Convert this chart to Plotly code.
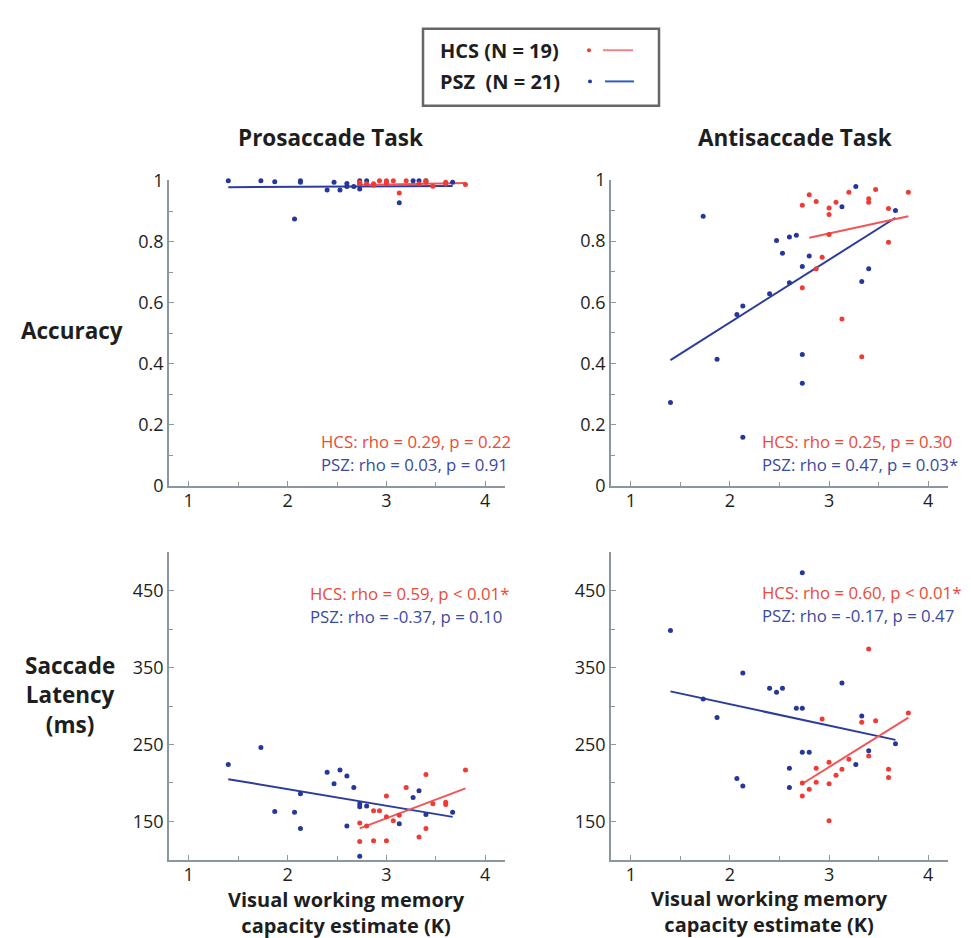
import plotly.graph_objects as go

W, H = 971, 938

# ---------------- data ----------------
# Prosaccade accuracy
pro_acc_psz_x = [1.40, 1.73, 1.87, 2.07, 2.13, 2.13, 2.40, 2.47, 2.53, 2.60, 2.60,
                 2.67, 2.73, 2.73, 2.73, 2.80, 3.13, 3.27, 3.33, 3.40, 3.67]
pro_acc_psz_y = [1.00, 1.00, 0.997, 0.875, 1.00, 0.995, 0.970, 0.995, 0.970, 0.991, 0.981,
                 0.981, 1.00, 0.991, 0.973, 1.00, 0.928, 1.00, 1.00, 1.00, 0.995]
pro_acc_hcs_x = [2.73, 2.73, 2.80, 2.87, 2.87, 2.93, 3.00, 3.00, 3.00, 3.07, 3.13,
                 3.20, 3.33, 3.40, 3.40, 3.47, 3.60, 3.60, 3.80]
pro_acc_hcs_y = [0.995, 0.99, 0.99, 0.985, 0.99, 1.00, 1.00, 0.995, 0.99, 1.00, 0.96,
                 1.00, 0.99, 1.00, 0.995, 0.982, 0.995, 0.99, 0.988]
pro_acc_psz_fit_x = [1.40, 3.67]
pro_acc_psz_fit_y = [0.979, 0.983]
pro_acc_hcs_fit_x = [2.73, 3.80]
pro_acc_hcs_fit_y = [0.986, 0.993]

# Antisaccade accuracy
anti_acc_psz_x = [1.40, 1.73, 1.87, 2.07, 2.13, 2.40, 2.47, 2.53, 2.60, 2.60, 2.67,
                  2.73, 2.73, 2.73, 2.80, 3.13, 3.27, 3.33, 3.40, 3.67, 2.13]
anti_acc_psz_y = [0.272, 0.881, 0.414, 0.560, 0.588, 0.628, 0.802, 0.760, 0.813, 0.664, 0.819,
                  0.717, 0.429, 0.335, 0.751, 0.912, 0.978, 0.668, 0.709, 0.900, 0.159]
anti_acc_hcs_x = [2.73, 2.73, 2.80, 2.87, 2.87, 2.93, 3.00, 3.00, 3.00, 3.07, 3.13,
                  3.20, 3.33, 3.40, 3.40, 3.47, 3.60, 3.60, 3.80]
anti_acc_hcs_y = [0.917, 0.647, 0.951, 0.929, 0.709, 0.747, 0.908, 0.887, 0.821, 0.927, 0.545,
                  0.959, 0.422, 0.938, 0.927, 0.968, 0.906, 0.796, 0.959]
anti_acc_psz_fit_x = [1.40, 3.67]
anti_acc_psz_fit_y = [0.411, 0.876]
anti_acc_hcs_fit_x = [2.80, 3.80]
anti_acc_hcs_fit_y = [0.811, 0.881]

# Prosaccade latency (ms)
pro_lat_psz_x = [1.40, 1.73, 1.87, 2.07, 2.13, 2.13, 2.40, 2.47, 2.53, 2.60, 2.60,
                 2.67, 2.73, 2.73, 2.73, 2.80, 3.13, 3.27, 3.33, 3.40, 3.67]
pro_lat_psz_y = [224, 246, 163, 162, 186, 141, 214, 199, 217, 209, 144,
                 194, 173, 169, 105, 170, 147, 181, 190, 159, 162]
pro_lat_hcs_x = [2.73, 2.73, 2.80, 2.87, 2.87, 2.93, 3.00, 3.00, 3.00, 3.07, 3.13,
                 3.20, 3.33, 3.40, 3.40, 3.47, 3.60, 3.60, 3.80]
pro_lat_hcs_y = [148, 124, 144, 164, 125, 164, 183, 125, 156, 151, 158,
                 194, 130, 211, 141, 173, 175, 172, 217]
pro_lat_psz_fit_x = [1.40, 3.67]
pro_lat_psz_fit_y = [205, 156]
pro_lat_hcs_fit_x = [2.73, 3.80]
pro_lat_hcs_fit_y = [141, 193]

# Antisaccade latency (ms)
anti_lat_psz_x = [2.73, 1.40, 2.13, 3.13, 2.40, 2.47, 2.53, 1.73, 2.67, 2.73, 1.87,
                  3.33, 3.67, 2.73, 2.80, 3.40, 2.60, 3.27, 2.07, 2.13, 2.60]
anti_lat_psz_y = [473, 398, 343, 330, 323, 318, 323, 309, 297, 297, 285,
                  287, 251, 240, 240, 242, 219, 224, 206, 196, 194]
anti_lat_hcs_x = [3.40, 3.80, 2.93, 3.33, 3.47, 3.40, 3.20, 3.00, 2.87, 3.13,
                  3.60, 3.60, 3.07, 2.87, 2.73, 3.00, 2.80, 2.73, 3.00]
anti_lat_hcs_y = [374, 291, 283, 279, 281, 235, 231, 227, 219, 218,
                  218, 207, 210, 201, 200, 199, 192, 183, 151]
anti_lat_psz_fit_x = [1.40, 3.67]
anti_lat_psz_fit_y = [319, 256]
anti_lat_hcs_fit_x = [2.73, 3.80]
anti_lat_hcs_fit_y = [199, 285]

# text
col_titles = ["Prosaccade Task", "Antisaccade Task"]
row_titles = ["Accuracy", "Saccade<br>Latency<br>(ms)"]
x_title = "Visual working memory<br>capacity estimate (K)"
legend_labels = ["HCS (N = 19)", "PSZ  (N = 21)"]
stats = [
    ("HCS: rho = 0.29, p = 0.22", "PSZ: rho = 0.03, p = 0.91"),
    ("HCS: rho = 0.25, p = 0.30", "PSZ: rho = 0.47, p = 0.03*"),
    ("HCS: rho = 0.59, p < 0.01*", "PSZ: rho = -0.37, p = 0.10"),
    ("HCS: rho = 0.60, p < 0.01*", "PSZ: rho = -0.17, p = 0.47"),
]
x_ticks = [1, 2, 3, 4]
acc_ticks = [0, 0.2, 0.4, 0.6, 0.8, 1]
acc_tick_text = ["0", "0.2", "0.4", "0.6", "0.8", "1"]
lat_ticks = [150, 250, 350, 450]

# ---------------- style ----------------
RED_PT = "#ef3b36"
BLUE_PT = "#25379a"
RED_LINE = "#f25555"
BLUE_LINE = "#2c3c9e"
RED_TXT = "#ec4a34"
BLUE_TXT = "#3a4aa0"
AXIS = "#8a979f"
TXT = "#1e1e1e"
FONT = "Open Sans, Noto Sans, sans-serif"

def px(x):
    return x / W

def py(y):
    return 1 - y / H

fig = go.Figure()

panels = [
    ("x", "y", pro_acc_psz_x, pro_acc_psz_y, pro_acc_hcs_x, pro_acc_hcs_y,
     pro_acc_psz_fit_x, pro_acc_psz_fit_y, pro_acc_hcs_fit_x, pro_acc_hcs_fit_y),
    ("x2", "y2", anti_acc_psz_x, anti_acc_psz_y, anti_acc_hcs_x, anti_acc_hcs_y,
     anti_acc_psz_fit_x, anti_acc_psz_fit_y, anti_acc_hcs_fit_x, anti_acc_hcs_fit_y),
    ("x3", "y3", pro_lat_psz_x, pro_lat_psz_y, pro_lat_hcs_x, pro_lat_hcs_y,
     pro_lat_psz_fit_x, pro_lat_psz_fit_y, pro_lat_hcs_fit_x, pro_lat_hcs_fit_y),
    ("x4", "y4", anti_lat_psz_x, anti_lat_psz_y, anti_lat_hcs_x, anti_lat_hcs_y,
     anti_lat_psz_fit_x, anti_lat_psz_fit_y, anti_lat_hcs_fit_x, anti_lat_hcs_fit_y),
]

for (xa, ya, bx, by, rx, ry, bfx, bfy, rfx, rfy) in panels:
    fig.add_trace(go.Scatter(x=bfx, y=bfy, xaxis=xa, yaxis=ya, mode="lines",
                             line=dict(color=BLUE_LINE, width=2), showlegend=False,
                             cliponaxis=False))
    fig.add_trace(go.Scatter(x=rfx, y=rfy, xaxis=xa, yaxis=ya, mode="lines",
                             line=dict(color=RED_LINE, width=2), showlegend=False,
                             cliponaxis=False))
    fig.add_trace(go.Scatter(x=bx, y=by, xaxis=xa, yaxis=ya, mode="markers",
                             marker=dict(color=BLUE_PT, size=5), showlegend=False,
                             cliponaxis=False))
    fig.add_trace(go.Scatter(x=rx, y=ry, xaxis=xa, yaxis=ya, mode="markers",
                             marker=dict(color=RED_PT, size=5), showlegend=False,
                             cliponaxis=False))

left_dom = [px(161), px(497)]
right_dom = [px(603), px(940)]
top_dom = [py(477), py(163)]
bot_dom = [py(861), py(545)]

def xaxis(dom, anchor):
    return dict(domain=dom, anchor=anchor, range=[0.8, 4.2], tickvals=x_ticks,
                showline=True, linecolor=AXIS, linewidth=1.5, ticks="inside",
                ticklen=5, tickcolor=AXIS, tickwidth=1.2, showgrid=False, zeroline=False,
                ticklabelstandoff=-2,
                tickfont=dict(size=18, color=TXT, family=FONT),
                minor=dict(tickvals=[1.5, 2.5, 3.5], ticks="inside", ticklen=4,
                           tickcolor=AXIS, showgrid=False))

def yaxis(dom, anchor, rng, tv, tt, minor_vals):
    return dict(domain=dom, anchor=anchor, range=rng, tickvals=tv, ticktext=tt,
                showline=True, linecolor=AXIS, linewidth=1.5, ticks="inside",
                ticklen=5, tickcolor=AXIS, tickwidth=1.2, showgrid=False, zeroline=False,
                tickfont=dict(size=18, color=TXT, family=FONT),
                minor=dict(tickvals=minor_vals, ticks="inside", ticklen=4,
                           tickcolor=AXIS, showgrid=False))

acc_minor = [0.1, 0.3, 0.5, 0.7, 0.9]
lat_minor = [200, 300, 400]
lat_text = [str(v) for v in lat_ticks]

fig.update_layout(
    width=W, height=H, margin=dict(l=0, r=0, t=0, b=0),
    paper_bgcolor="white", plot_bgcolor="white", showlegend=False,
    font=dict(family=FONT, color=TXT),
    xaxis=xaxis(left_dom, "y"),
    yaxis=yaxis(top_dom, "x", [0, 1.003], acc_ticks, acc_tick_text, acc_minor),
    xaxis2=xaxis(right_dom, "y2"),
    yaxis2=yaxis(top_dom, "x2", [0, 1.0], acc_ticks, acc_tick_text, acc_minor),
    xaxis3=xaxis(left_dom, "y3"),
    yaxis3=yaxis(bot_dom, "x3", [100, 500], lat_ticks, lat_text, lat_minor),
    xaxis4=xaxis(right_dom, "y4"),
    yaxis4=yaxis(bot_dom, "x4", [100, 500], lat_ticks, lat_text, lat_minor),
)

ann = []
# column titles
ann.append(dict(text=f"<b>{col_titles[0]}</b>", x=px(322), y=py(120), font=dict(size=22.5)))
ann.append(dict(text=f"<b>{col_titles[1]}</b>", x=px(787), y=py(120), font=dict(size=22.5)))
# row titles
ann.append(dict(text=f"<b>{row_titles[0]}</b>", x=px(64), y=py(318), font=dict(size=22.5)))
ann.append(dict(text=f"<b>{row_titles[1]}</b>", x=px(62), y=py(692), font=dict(size=22.5)))
# x titles
ann.append(dict(text=f"<b>{x_title}</b>", x=px(338), y=py(915), font=dict(size=20)))
ann.append(dict(text=f"<b>{x_title}</b>", x=px(761), y=py(914), font=dict(size=20)))

stat_pos = [(311, 432, 455), (752, 432, 455), (300, 588, 611), (752, 587, 610)]
for (s_h, s_p), (sx, y1, y2) in zip(stats, stat_pos):
    ann.append(dict(text=s_h, x=px(sx), y=py(y1), xanchor="left",
                    font=dict(size=16.8, color=RED_TXT)))
    ann.append(dict(text=s_p, x=px(sx), y=py(y2), xanchor="left",
                    font=dict(size=16.8, color=BLUE_TXT)))

# legend text
ann.append(dict(text=f"<b>{legend_labels[0]}</b>", x=px(430), y=py(30), xanchor="left",
                font=dict(size=20)))
ann.append(dict(text=f"<b>{legend_labels[1]}</b>", x=px(430), y=py(62), xanchor="left",
                font=dict(size=20)))

for a in ann:
    a.setdefault("xanchor", "center")
    a["yanchor"] = "middle"
    a["xref"] = "paper"
    a["yref"] = "paper"
    a["showarrow"] = False
    f = a.get("font", {})
    f.setdefault("family", FONT)
    f.setdefault("color", TXT)
    a["font"] = f
fig.update_layout(annotations=ann)

shapes = [
    dict(type="rect", xref="paper", yref="paper", x0=px(415), x1=px(651), y0=py(87), y1=py(8),
         line=dict(color="#666666", width=2.5), fillcolor="white", layer="below"),
    dict(type="line", xref="paper", yref="paper", x0=px(595), x1=px(625), y0=py(30), y1=py(30),
         line=dict(color="#f08484", width=2)),
    dict(type="line", xref="paper", yref="paper", x0=px(597), x1=px(626), y0=py(62), y1=py(62),
         line=dict(color="#2f5cc4", width=2)),
    dict(type="circle", xref="paper", yref="paper", x0=px(579), x1=px(583), y0=py(32), y1=py(28),
         line=dict(width=0), fillcolor=RED_PT),
    dict(type="circle", xref="paper", yref="paper", x0=px(580), x1=px(584), y0=py(64), y1=py(60),
         line=dict(width=0), fillcolor=BLUE_PT),
]
fig.update_layout(shapes=shapes)

fig.write_html("out.html")
